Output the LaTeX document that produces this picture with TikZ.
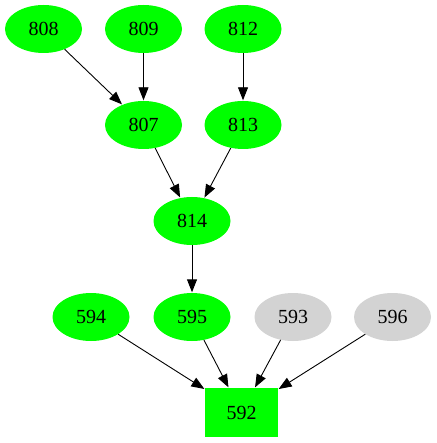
\documentclass[tikz,border=0pt]{standalone}
\usepackage{fontspec}
\setmainfont{Liberation Serif}
\usetikzlibrary{arrows.meta,shapes.geometric}
\begin{document}
\begin{tikzpicture}[x=1pt,y=-1pt,
  ell/.style={ellipse,fill=green!100,minimum width=77pt,minimum height=48pt,inner sep=0pt,font=\fontsize{20}{20}\selectfont},
  grey/.style={ell,fill={rgb,255:red,211;green,211;blue,211}},
  boxn/.style={rectangle,fill=green!100,minimum width=73pt,minimum height=49pt,inner sep=0pt,font=\fontsize{20}{20}\selectfont},
  edge/.style={draw,line width=0.9pt,-{Triangle[length=13pt,width=10pt]},shorten >=0.5pt}]
\useasboundingbox (0,0) rectangle (436,443);
\node[ell] (808) at (43.5,29) {808};
\node[ell] (809) at (143.5,29) {809};
\node[ell] (812) at (243,29) {812};
\node[ell] (807) at (143.5,125) {807};
\node[ell] (813) at (243,125) {813};
\node[ell] (814) at (192,221) {814};
\node[ell] (594) at (91,317) {594};
\node[ell] (595) at (192,317) {595};
\node[grey] (593) at (293,317) {593};
\node[grey] (596) at (392.5,317) {596};
\node[boxn] (592) at (241.5,412.5) {592};
\draw[edge] (808) -- (807);
\draw[edge] (809) -- (807);
\draw[edge] (812) -- (813);
\draw[edge] (807) -- (814);
\draw[edge] (813) -- (814);
\draw[edge] (814) -- (595);
\draw[edge] (594) -- (592);
\draw[edge] (595) -- (592);
\draw[edge] (593) -- (592);
\draw[edge] (596) -- (592);
\end{tikzpicture}
\end{document}
